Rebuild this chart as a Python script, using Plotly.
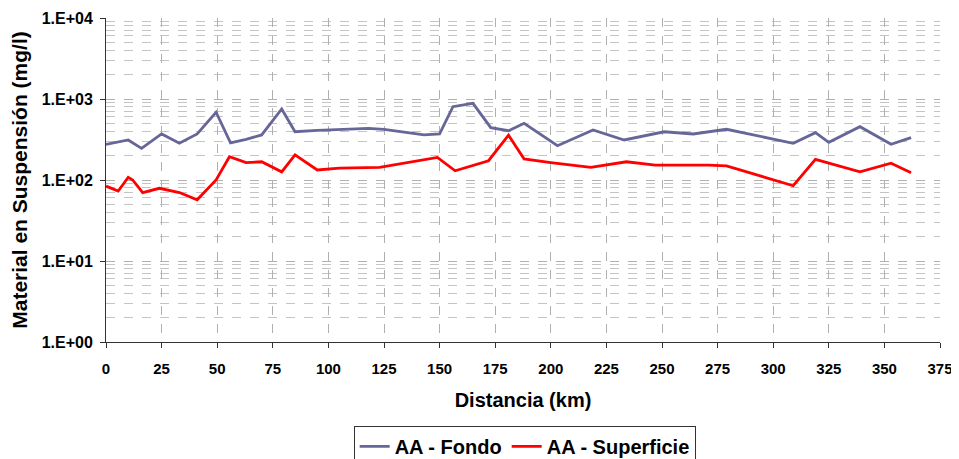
import plotly.graph_objects as go

# Serie AA - Fondo (distancia km, material en suspension mg/l)
fondo_km = [0, 10, 16, 25, 33, 41, 49.5, 56, 63, 70, 79, 85, 95, 105, 118, 125,
            143, 150, 156, 165, 173, 181, 188, 203, 219, 233, 251, 264, 279,
            309, 319, 325, 339, 353, 362]
fondo_val = [275, 312, 246, 370, 284, 370, 686, 288, 318, 360, 754, 394, 410,
             423, 435, 423, 360, 370, 803, 885, 443, 406, 501, 265, 414, 312,
             394, 370, 423, 284, 384, 292, 455, 276, 333]

# Serie AA - Superficie
sup_km = [0, 5.5, 10, 12, 16.5, 24, 33, 41, 49.5, 55.5, 63, 70, 79, 85, 95,
          105, 123, 149, 157, 172, 181, 188, 200, 218, 234, 247, 271, 279,
          309, 319, 339, 353, 362]
sup_val = [84, 73, 108, 100, 70, 79, 70, 57, 100, 194, 164, 168, 126, 204, 133,
           140, 143, 190, 130, 173, 357, 182, 164, 143, 168, 153, 153, 149,
           85, 180, 126, 161, 123]

y_ticks = [1, 10, 100, 1000, 10000]
y_labels = ["1.E+00", "1.E+01", "1.E+02", "1.E+03", "1.E+04"]
x_ticks = list(range(0, 376, 25))

minor_vals = [m * 10 ** k for k in range(4) for m in range(2, 10)]

FAM = 'Liberation Sans, Arial, sans-serif'

fig = go.Figure()
fig.add_trace(go.Scatter(x=fondo_km, y=fondo_val, mode='lines', name='AA - Fondo',
                         line=dict(color='#666699', width=2.8)))
fig.add_trace(go.Scatter(x=sup_km, y=sup_val, mode='lines', name='AA - Superficie',
                         line=dict(color='#FF0000', width=2.8)))

# la pagina tiene 8px de margen en el body: figura mas pequeña para que quepa
fig.update_layout(
    width=951, height=451,
    margin=dict(l=98, r=19, t=10, b=117, autoexpand=False),
    paper_bgcolor='white', plot_bgcolor='white',
    font=dict(family=FAM, color='black', size=16),
    showlegend=True,
    legend=dict(orientation='h', x=0.502, xanchor='center', y=-0.259, yanchor='top',
                bordercolor='#333333', borderwidth=1, bgcolor='white',
                font=dict(family=FAM, size=20, weight='bold', color='black'),
                itemwidth=30, tracegroupgap=0),
)

fig.update_xaxes(
    range=[0, 375], tickvals=x_ticks, ticktext=[str(v) for v in x_ticks],
    automargin=False,
    showline=True, linecolor='#333333', linewidth=1,
    ticks='outside', ticklen=5, tickcolor='#333333',
    tickfont=dict(family=FAM, size=15, weight='bold', color='black'),
    ticklabelstandoff=8,
    showgrid=True, gridcolor='#b0b0b0', griddash='dash', gridwidth=1,
    zeroline=False,
    title=dict(text='Distancia (km)', standoff=16,
               font=dict(family=FAM, size=20, weight='bold', color='black')),
)

fig.update_yaxes(
    type='log', range=[0, 4], tickvals=y_ticks, ticktext=y_labels,
    automargin=False,
    showline=True, linecolor='#333333', linewidth=1,
    ticks='outside', ticklen=5, tickcolor='#333333',
    tickfont=dict(family=FAM, size=16, weight='bold', color='black'),
    ticklabelstandoff=4,
    showgrid=True, gridcolor='#b0b0b0', griddash='dash', gridwidth=1,
    minor=dict(tickvals=minor_vals, showgrid=True, gridcolor='#c4c4c4',
               griddash='dash', gridwidth=1, ticks=''),
    zeroline=False,
    title=dict(text='Material en Suspensión (mg/l)', standoff=10,
               font=dict(family=FAM, size=21, weight='bold', color='black')),
)

fig.write_html("out.html")
